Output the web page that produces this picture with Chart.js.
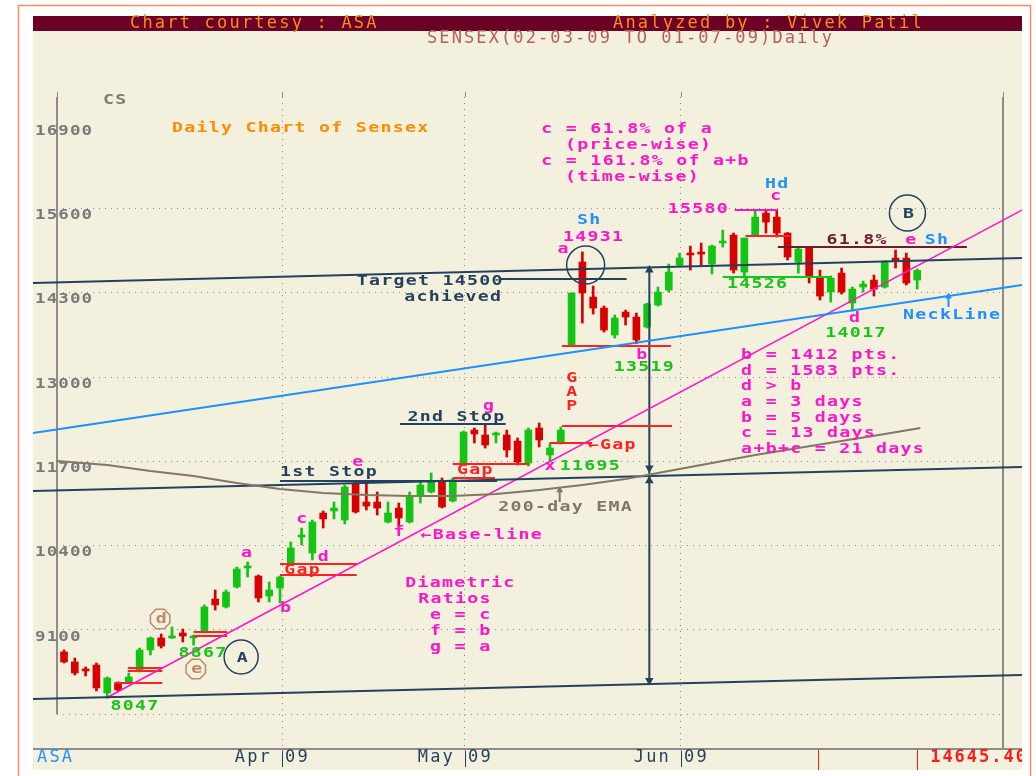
<!DOCTYPE html>
<html>
<head>
<meta charset="utf-8">
<script src="https://cdn.jsdelivr.net/npm/chart.js@4.4.1/dist/chart.umd.min.js"></script>
<style>
  html, body { margin: 0; padding: 0; background: #fff; }
  canvas { display: block; }
</style>
</head>
<body>
<canvas id="sensex" width="1036" height="776" style="width:1036px;height:776px"></canvas>
<script>
// daily Sensex candles, 02-03-09 .. 01-07-09 (trading day index 0..79)
const opens  = [8761, 8607, 8499, 8560, 8129, 8283, 8298, 8483, 8792, 8977,
                8977, 9054, 8977, 9069, 9578, 9455, 9763, 10056, 9933, 9624,
                9748, 10133, 10534, 10287, 10904, 10935, 10796, 11351, 11074, 11074,
                10765, 10981, 10765, 11182, 11228, 11382, 11089, 11675, 12184, 12107,
                12107, 12107, 12014, 11675, 12215, 11799, 11984, 13479, 14775, 14235,
                14065, 13649, 14004, 13926, 13772, 14112, 14343, 14728, 14898, 14913,
                14744, 15068, 15191, 14620, 15191, 15530, 15468, 15222, 14775, 15006,
                14528, 14312, 14605, 14142, 14389, 14497, 14389, 14836, 14836, 14497];
const highs  = [8792, 8668, 8529, 8591, 8375, 8300, 8437, 8822, 8992, 9038,
                9146, 9115, 9023, 9486, 9717, 9717, 10071, 10149, 9948, 9840,
                9933, 10457, 10673, 10796, 10935, 11074, 11336, 11382, 11367, 11228,
                11074, 11058, 11228, 11382, 11521, 11444, 11444, 12169, 12215, 12261,
                12153, 12184, 12061, 12215, 12292, 11984, 12230, 14300, 14931, 14404,
                14096, 13957, 14034, 13988, 14142, 14389, 14744, 14913, 15021, 15068,
                15037, 15268, 15222, 15145, 15576, 15576, 15580, 15230, 15006, 15010,
                14651, 14559, 14682, 14389, 14482, 14574, 14790, 14960, 14913, 14667];
const lows   = [8591, 8406, 8391, 8159, 8047, 8159, 8283, 8452, 8714, 8822,
                8970, 8915, 8867, 9054, 9408, 9439, 9748, 9917, 9532, 9532,
                9516, 10118, 10411, 10179, 10673, 10812, 10735, 10904, 10950, 10873,
                10750, 10688, 10750, 11058, 11213, 10981, 11074, 11660, 11984, 11906,
                11984, 11768, 11644, 11629, 11922, 11695, 11968, 13470, 13834, 13973,
                13695, 13603, 13803, 13519, 13757, 14096, 14312, 14713, 14651, 14728,
                14590, 15006, 14605, 14526, 15175, 15222, 15160, 14805, 14605, 14451,
                14189, 14158, 14281, 14017, 14312, 14250, 14374, 14682, 14420, 14358];
const closes = [8607, 8437, 8468, 8206, 8360, 8175, 8375, 8792, 8977, 8853,
                8992, 9007, 9007, 9455, 9486, 9686, 10041, 10071, 9593, 9717,
                9917, 10364, 10549, 10765, 10812, 10981, 11305, 10920, 11012, 10981,
                10904, 10827, 11151, 11336, 11382, 10997, 11413, 12153, 12122, 11953,
                12138, 11876, 11691, 12184, 12030, 11906, 12184, 14297, 14297, 14065,
                13726, 13911, 13926, 13572, 14127, 14312, 14620, 14836, 14883, 14898,
                15021, 15098, 14651, 15145, 15468, 15391, 15222, 14852, 14975, 14543,
                14250, 14528, 14312, 14358, 14435, 14358, 14790, 14790, 14451, 14645];

// 200-day EMA (day index, value)
const emaDays = [-0.65, 4, 8, 12, 16, 20, 24, 28, 32, 36, 40, 44, 48, 52, 56, 60, 64, 68, 72, 76, 79.3];
const emaVals = [11706, 11644, 11552, 11475, 11367, 11274, 11213, 11182, 11166, 11166, 11197,
                 11259, 11336, 11428, 11552, 11675, 11799, 11906, 12014, 12122, 12215];

// axis ticks
const yTicks = [7800, 9100, 10400, 11700, 13000, 14300, 15600, 16900];
const monthTicks = [20.2, 37.1, 57.1];
const monthNames = ['Apr', 'May', 'Jun'];
const cursorTicks = [69.8, 79];
const lastClose = '14645.40';

// drawn lines, [day, value] pairs
const baseLine   = [[4.07, 8067], [88.7, 15576]];
const neckLine   = [[-2.87, 12138], [88.7, 14420]];
const channelTop = [[-2.87, 14451], [88.7, 14836]];
const channelMid = [[-2.87, 11243], [88.7, 11613]];
const channelLow = [[-2.87, 8036], [88.7, 8406]];
// horizontal marks [fromDay, toDay, value]
const gapMarks = [[4.7, 9.1, 8283], [5.9, 9.1, 8514], [5.9, 9.1, 8468],
                  [12, 15.1, 9069], [12, 15.1, 9007],
                  [20, 27.1, 10118], [20, 27.1, 9948],
                  [36, 43.1, 11660], [36, 39.9, 11444],
                  [45, 48.9, 11984], [46.1, 56.3, 12246],
                  [46.1, 56.2, 13479], [63.1, 67.2, 15175]];
const stopMarks = [[31.1, 40.9, 12277], [20.0, 40.1, 11398], [40.4, 52.1, 14512]];
const lowMark = [[61.0, 70.9, 14543]];
const topMark = [[62.1, 66.1, 15576]];
const retraceMark = [[66.1, 83.6, 15006]];
const measureDay = 54.2;
const measureSpan = [14682, 8283];
const measureTips = [14650, 11600, 11400, 8320];
const emaArrow = [[45.9, 11074], [45.9, 11230]];
const neckArrow = [[81.9, 14081], [81.9, 14220]];

const C = {
  up: '#14c414', down: '#d80000', mag: '#ff14c8', green: '#19c419', blue: '#1e90ff',
  navy: '#24425f', red: '#ff2222', maroon: '#6e1c30', gray: '#7a7a7a', ema: '#857468',
  orange: '#ff8c00', brown: '#c0866c'
};

const notes = [
  ['CS', 3.6, 17273, C.gray], ['Daily Chart of Sensex', 10.0, 16841, C.orange],
  ['c = 61.8% of a', 44.2, 16826, C.mag], ['(price-wise)', 46.4, 16579, C.mag],
  ['c = 161.8% of a+b', 44.2, 16332, C.mag], ['(time-wise)', 46.4, 16085, C.mag],
  ['Hd', 64.9, 15977, C.blue], ['c', 65.4, 15792, C.mag], ['15580', 55.9, 15592, C.mag],
  ['61.8%', 70.6, 15114, C.maroon], ['e', 77.9, 15114, C.mag], ['Sh', 79.7, 15114, C.blue],
  ['Sh', 47.5, 15422, C.blue], ['14931', 46.2, 15160, C.mag], ['a', 45.7, 14975, C.mag],
  ['Target 14500', 27.1, 14482, C.navy], ['achieved', 31.5, 14235, C.navy],
  ['14526', 61.4, 14435, C.green], ['d', 72.7, 13911, C.mag], ['14017', 70.5, 13680, C.green],
  ['NeckLine', 77.7, 13957, C.blue], ['b', 53.0, 13341, C.mag], ['13519', 50.9, 13155, C.green],
  ['b = 1412 pts.', 62.7, 13341, C.mag], ['d = 1583 pts.', 62.7, 13094, C.mag],
  ['d > b', 62.7, 12862, C.mag], ['a = 3 days', 62.7, 12616, C.mag],
  ['b = 5 days', 62.7, 12369, C.mag], ['c = 13 days', 62.7, 12138, C.mag],
  ['a+b+c = 21 days', 62.7, 11891, C.mag],
  ['G', 46.5, 12986, C.red], ['A', 46.5, 12770, C.red], ['P', 46.5, 12554, C.red],
  ['g', 38.8, 12554, C.mag], ['2nd Stop', 31.8, 12385, C.navy], ['\u2190Gap', 48.5, 11953, C.red],
  ['Gap', 36.4, 11567, C.red], ['x', 44.5, 11629, C.mag], ['11695', 45.9, 11629, C.green],
  ['e', 26.7, 11691, C.mag], ['1st Stop', 20.0, 11536, C.navy], ['200-day EMA', 40.2, 10997, C.ema],
  ['c', 21.5, 10812, C.mag], ['f', 30.5, 10611, C.mag], ['\u2190Base-line', 33.0, 10565, C.mag],
  ['d', 23.5, 10226, C.mag], ['a', 16.4, 10287, C.mag], ['Gap', 20.4, 10025, C.red],
  ['b', 20.0, 9439, C.mag], ['Diametric', 31.6, 9825, C.mag], ['Ratios', 32.8, 9578, C.mag],
  ['e = c', 33.9, 9331, C.mag], ['f = b', 33.9, 9085, C.mag], ['g = a', 33.9, 8838, C.mag],
  ['8867', 10.6, 8745, C.green], ['8047', 4.3, 7928, C.green]
];
const rings = [[48.3, 14728, 19, ''], [16.4, 8684, 17, 'A'], [78.1, 15530, 18, 'B']];
const octagons = [[8.9, 9270, 'd'], [12.2, 8499, 'e']];

const days = opens.map((_, i) => i);
const tone = days.map(i => closes[i] >= opens[i] ? C.up : C.down);
const pts = arr => arr.map(([x, y]) => ({x, y}));
function segments(list) {
  const out = [];
  list.forEach(([a, b, v]) => out.push({x: a, y: v}, {x: b, y: v}, {x: b, y: null}));
  return out;
}
function lineSet(data, color, width) {
  return {type: 'line', data, borderColor: color, borderWidth: width, pointRadius: 0,
          fill: false, clip: false, order: 0, spanGaps: false, tension: 0};
}

const MONO = '"DejaVu Sans Mono", "Liberation Mono", monospace';
// text with a horizontal stretch to mimic the wide bitmap font of the original
function say(ctx, s, px, py, color, font, spacing, align, stretch) {
  const sx = stretch || 1;
  ctx.save();
  ctx.translate(px, py);
  ctx.scale(sx, 1);
  ctx.font = font;
  ctx.letterSpacing = (spacing / sx) + 'px';
  ctx.fillStyle = color;
  ctx.textAlign = align || 'left';
  ctx.textBaseline = 'middle';
  ctx.fillText(s, 0, 0);
  ctx.restore();
}
const NOTE = 'bold 14px ' + MONO;

const decor = {
  id: 'decor',
  beforeDraw(chart) {
    const {ctx} = chart;
    ctx.save();
    ctx.fillStyle = '#ffffff';
    ctx.fillRect(0, 0, 1036, 776);
    ctx.fillStyle = '#f3f1de';
    ctx.fillRect(33, 16, 989, 754);
    ctx.fillStyle = '#6a0026';
    ctx.fillRect(33, 16, 989, 15);
    ctx.strokeStyle = '#f58a66';
    ctx.lineWidth = 1.5;
    ctx.strokeRect(18.5, 5.5, 1012, 800);
    say(ctx, 'Chart courtesy : ASA', 130, 24, '#ff8c1a', '17px ' + MONO, 2.2);
    say(ctx, 'Analyzed by : Vivek Patil', 613, 24, '#ff8c1a', '17px ' + MONO, 2.2);
    say(ctx, 'SENSEX(02-03-09 TO 01-07-09)Daily', 427, 39, '#b35f5a', '17px ' + MONO, 2.1);
    ctx.restore();
  },
  beforeDatasetsDraw(chart) {
    const {ctx, chartArea: a, scales: {x, y}} = chart;
    ctx.save();
    ctx.strokeStyle = '#8c8c8c';
    ctx.lineWidth = 2;
    ctx.beginPath();
    ctx.moveTo(a.left, a.top);
    ctx.lineTo(a.left, y.getPixelForValue(yTicks[0]));
    ctx.moveTo(a.right, a.top);
    ctx.lineTo(a.right, a.bottom);
    ctx.moveTo(33, a.bottom + 1);
    ctx.lineTo(1022, a.bottom + 1);
    ctx.stroke();
    ctx.lineWidth = 1;
    ctx.beginPath();
    [a.left, a.right].concat(monthTicks.map(t => x.getPixelForValue(t))).forEach(px => {
      ctx.moveTo(Math.round(px) + 0.5, a.top - 5);
      ctx.lineTo(Math.round(px) + 0.5, a.top);
    });
    ctx.stroke();
    ctx.restore();
  },
  afterDatasetsDraw(chart) {
    const {ctx, chartArea: a, scales: {x, y}} = chart;
    ctx.save();
    // y labels
    yTicks.slice(1).forEach(v => {
      say(ctx, String(v), 35, y.getPixelForValue(v) + 7, '#7a7a7a', NOTE, 1.1, 'left', 1.25);
    });
    // rings and octagons
    rings.forEach(([d, v, r, t]) => {
      const px = x.getPixelForValue(d), py = y.getPixelForValue(v);
      ctx.strokeStyle = C.navy;
      ctx.lineWidth = 1.5;
      ctx.beginPath();
      ctx.arc(px, py, r, 0, Math.PI * 2);
      ctx.stroke();
      if (t) say(ctx, t, px + 1, py + 1, C.navy, NOTE, 0, 'center', 1.3);
    });
    octagons.forEach(([d, v, t]) => {
      const px = x.getPixelForValue(d), py = y.getPixelForValue(v);
      ctx.strokeStyle = C.brown;
      ctx.lineWidth = 1.5;
      ctx.beginPath();
      for (let k = 0; k < 8; k++) {
        const ang = Math.PI / 8 + k * Math.PI / 4;
        const qx = px + 10.5 * Math.cos(ang), qy = py + 10.5 * Math.sin(ang);
        if (k === 0) ctx.moveTo(qx, qy); else ctx.lineTo(qx, qy);
      }
      ctx.closePath();
      ctx.stroke();
      say(ctx, t, px + 1, py, C.brown, NOTE, 0, 'center', 1.3);
    });
    // notes
    notes.forEach(([s, d, v, color]) => {
      say(ctx, s, x.getPixelForValue(d), y.getPixelForValue(v), color, NOTE, 1.3, 'left', 1.3);
    });
    // bottom strip
    ctx.beginPath();
    ctx.rect(33, a.bottom, 989, 776 - a.bottom);
    ctx.clip();
    const stripY = a.bottom + 10;
    const thin = '17px ' + MONO;
    say(ctx, 'ASA', 37, stripY, C.blue, thin, 2.2);
    monthTicks.forEach((t, k) => {
      const px = Math.round(x.getPixelForValue(t));
      ctx.fillStyle = C.navy;
      ctx.fillRect(px, a.bottom + 2, 1, 17);
      ctx.fillStyle = C.mag;
      ctx.fillRect(px, a.bottom + 2, 1, 2);
      say(ctx, monthNames[k], px - 10, stripY, C.navy, thin, 2.2, 'right');
      say(ctx, '09', px + 3, stripY, C.navy, thin, 2.2);
    });
    cursorTicks.forEach(t => {
      const px = Math.round(x.getPixelForValue(t));
      ctx.fillStyle = '#ff1a1a';
      ctx.fillRect(px, a.bottom + 2, 1, 20);
    });
    say(ctx, lastClose, x.getPixelForValue(cursorTicks[1]) + 13, stripY, '#ff1a1a', 'bold 17px ' + MONO, 2.0);
    ctx.restore();
  }
};

new Chart(document.getElementById('sensex'), {
  type: 'bar',
  data: {
    datasets: [
      {
        label: 'wick',
        data: days.map(i => ({x: i, y: [lows[i], highs[i]]})),
        backgroundColor: tone,
        barThickness: 2,
        grouped: false,
        order: 6
      },
      {
        label: 'body',
        data: days.map(i => ({x: i, y: [opens[i], closes[i]]})),
        backgroundColor: tone,
        barThickness: 7,
        minBarLength: 2,
        grouped: false,
        order: 5
      },
      lineSet(emaDays.map((d, k) => ({x: d, y: emaVals[k]})), C.ema, 2),
      lineSet(pts(channelTop), C.navy, 2),
      lineSet(pts(channelMid), C.navy, 2),
      lineSet(pts(channelLow), C.navy, 2),
      lineSet(pts(neckLine), C.blue, 2),
      lineSet(pts(baseLine), C.mag, 1.5),
      lineSet(segments(gapMarks), C.red, 2),
      lineSet(segments(stopMarks), C.navy, 2),
      lineSet(segments(lowMark), C.green, 2),
      lineSet(segments(topMark), C.mag, 2),
      lineSet(segments(retraceMark), C.maroon, 2),
      lineSet(measureSpan.map(v => ({x: measureDay, y: v})), C.navy, 2),
      lineSet(pts(emaArrow), C.ema, 2),
      lineSet(pts(neckArrow), C.blue, 2),
      {
        type: 'line',
        data: measureTips.map(v => ({x: measureDay, y: v})),
        showLine: false,
        pointStyle: 'triangle',
        pointRadius: 5,
        pointRotation: [0, 180, 0, 180],
        pointBackgroundColor: C.navy,
        pointBorderWidth: 0,
        clip: false,
        order: 0
      },
      {
        type: 'line',
        data: [{x: emaArrow[1][0], y: 11255}, {x: neckArrow[1][0], y: 14245}],
        showLine: false,
        pointStyle: 'triangle',
        pointRadius: 4,
        pointBackgroundColor: [C.ema, C.blue],
        pointBorderWidth: 0,
        clip: false,
        order: 0
      }
    ]
  },
  options: {
    responsive: false,
    animation: false,
    layout: {padding: {left: 57, top: 97, right: 33, bottom: 28}},
    scales: {
      x: {
        type: 'linear',
        min: -0.65,
        max: 86.95,
        offset: false,
        afterBuildTicks: s => { s.ticks = monthTicks.map(v => ({value: v})); },
        ticks: {display: false},
        grid: {color: '#8a8a8a', lineWidth: 1, drawTicks: false, offset: false},
        border: {display: false, dash: [1, 5]}
      },
      y: {
        type: 'linear',
        min: 7280,
        max: 17320,
        afterBuildTicks: s => { s.ticks = yTicks.map(v => ({value: v})); },
        ticks: {display: false},
        grid: {
          color: c => (c.tick && c.tick.value === 16900) ? 'rgba(0,0,0,0)' : '#8a8a8a',
          lineWidth: 1,
          drawTicks: false
        },
        border: {display: false, dash: [1, 5]}
      }
    },
    plugins: {legend: {display: false}, tooltip: {enabled: false}}
  },
  plugins: [decor]
});
</script>
</body>
</html>
